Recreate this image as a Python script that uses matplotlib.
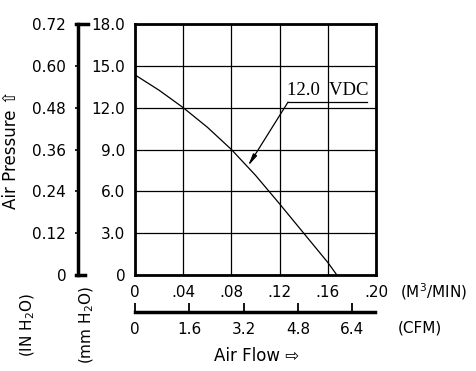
import matplotlib
matplotlib.use('Agg')
import matplotlib.pyplot as plt

plt.rcParams['font.family'] = ['DejaVu Sans']
plt.rcParams['mathtext.default'] = 'regular'

# fan curve, 12.0 VDC (flow in m3/min, pressure in mm H2O)
flow = [0, 0.02, 0.04, 0.06, 0.08, 0.10, 0.12, 0.14, 0.16, 0.1675]
pressure = [14.35, 13.25, 12.0, 10.6, 9.0, 7.15, 5.1, 3.0, 0.9, 0]

flow_ticks = [0, 0.04, 0.08, 0.12, 0.16, 0.20]
flow_labels = ['0', '.04', '.08', '.12', '.16', '.20']
cfm_ticks = [0, 1.6, 3.2, 4.8, 6.4]
cfm_labels = ['0', '1.6', '3.2', '4.8', '6.4']
mm_ticks = [0, 3, 6, 9, 12, 15, 18]
mm_labels = ['0', '3.0', '6.0', '9.0', '12.0', '15.0', '18.0']
inch_labels = ['0', '0.12', '0.24', '0.36', '0.48', '0.60', '0.72']
M3MIN_TO_CFM = 35.3147

W, H = 476, 371
fig = plt.figure(figsize=(W / 100, H / 100), dpi=100)

def fx(px):
    return px / W

def fy(py):
    return (H - py) / H

# main plot box
left, right, top, bottom = 135, 376, 24, 275
ax = fig.add_axes([fx(left), fy(bottom), fx(right - left), (bottom - top) / H])
ax.set_xlim(0, 0.2)
ax.set_ylim(0, 18)
ax.set_xticks(flow_ticks)
ax.set_xticklabels(flow_labels)
ax.set_yticks(mm_ticks)
ax.set_yticklabels(mm_labels)
ax.tick_params(length=0, labelsize=11, pad=7)
ax.grid(True, color='black', lw=0.9)
for s in ax.spines.values():
    s.set_linewidth(2.0)
ax.plot(flow, pressure, color='black', lw=0.9)

# label with leader arrow
ax.annotate('', xy=(0.0938, 7.82), xytext=(0.127, 12.4),
            arrowprops=dict(arrowstyle='-|>,head_length=0.7,head_width=0.13',
                            color='black', lw=0.9, shrinkA=0, shrinkB=0))
ax.plot([0.127, 0.1925], [12.4, 12.4], color='black', lw=0.9)
ax.text(0.1265, 12.65, '12.0  VDC', family='Liberation Serif', fontsize=13.5,
        ha='left', va='bottom')

ax.text(1.24, -0.068, r'(M$^{3}$/MIN)', transform=ax.transAxes,
        fontsize=11, ha='center', va='center', clip_on=False)

# inch H2O bracket axis
ax2 = fig.add_axes([fx(78), fy(bottom), fx(10), (bottom - top) / H])
ax2.set_xlim(0, 1)
ax2.set_ylim(0, 18)
ax2.patch.set_visible(False)
for k in ['top', 'right', 'bottom']:
    ax2.spines[k].set_visible(False)
ax2.spines['left'].set_linewidth(2.5)
ax2.set_xticks([])
ax2.set_yticks(mm_ticks)
ax2.set_yticklabels(inch_labels)
ax2.tick_params(axis='y', length=2.5, width=1.2, labelsize=11, pad=6)
tr = ax2.get_yaxis_transform()
ax2.plot([-0.2, 1.0], [18, 18], color='black', lw=2.5, transform=tr, clip_on=False)
ax2.plot([-0.2, 0.7], [0, 0], color='black', lw=2.5, transform=tr, clip_on=False)

# CFM axis
ax3 = fig.add_axes([fx(135), fy(312), fx(240), 0.01])
ax3.set_xlim(0, 0.2 * M3MIN_TO_CFM)
ax3.set_ylim(0, 1)
ax3.patch.set_visible(False)
for k in ['top', 'right', 'left']:
    ax3.spines[k].set_visible(False)
ax3.spines['bottom'].set_linewidth(2.5)
ax3.set_yticks([])
ax3.set_xticks(cfm_ticks)
ax3.set_xticklabels(cfm_labels)
ax3.tick_params(axis='x', direction='in', length=6.5, width=1.3, labelsize=11, pad=7)

fig.text(fx(420), fy(328), '(CFM)', fontsize=11, ha='center', va='center')
fig.text(fx(257), fy(356), 'Air Flow \u21e8', fontsize=12, ha='center', va='center')
fig.text(fx(11), fy(150), 'Air Pressure \u21e7', fontsize=12, rotation=90,
         ha='center', va='center')
fig.text(fx(28), fy(325), r'(IN H$_2$O)', fontsize=11, rotation=90,
         ha='center', va='center')
fig.text(fx(87), fy(325), r'(mm H$_2$O)', fontsize=11, rotation=90,
         ha='center', va='center')

fig.savefig('out.png', dpi=100)
